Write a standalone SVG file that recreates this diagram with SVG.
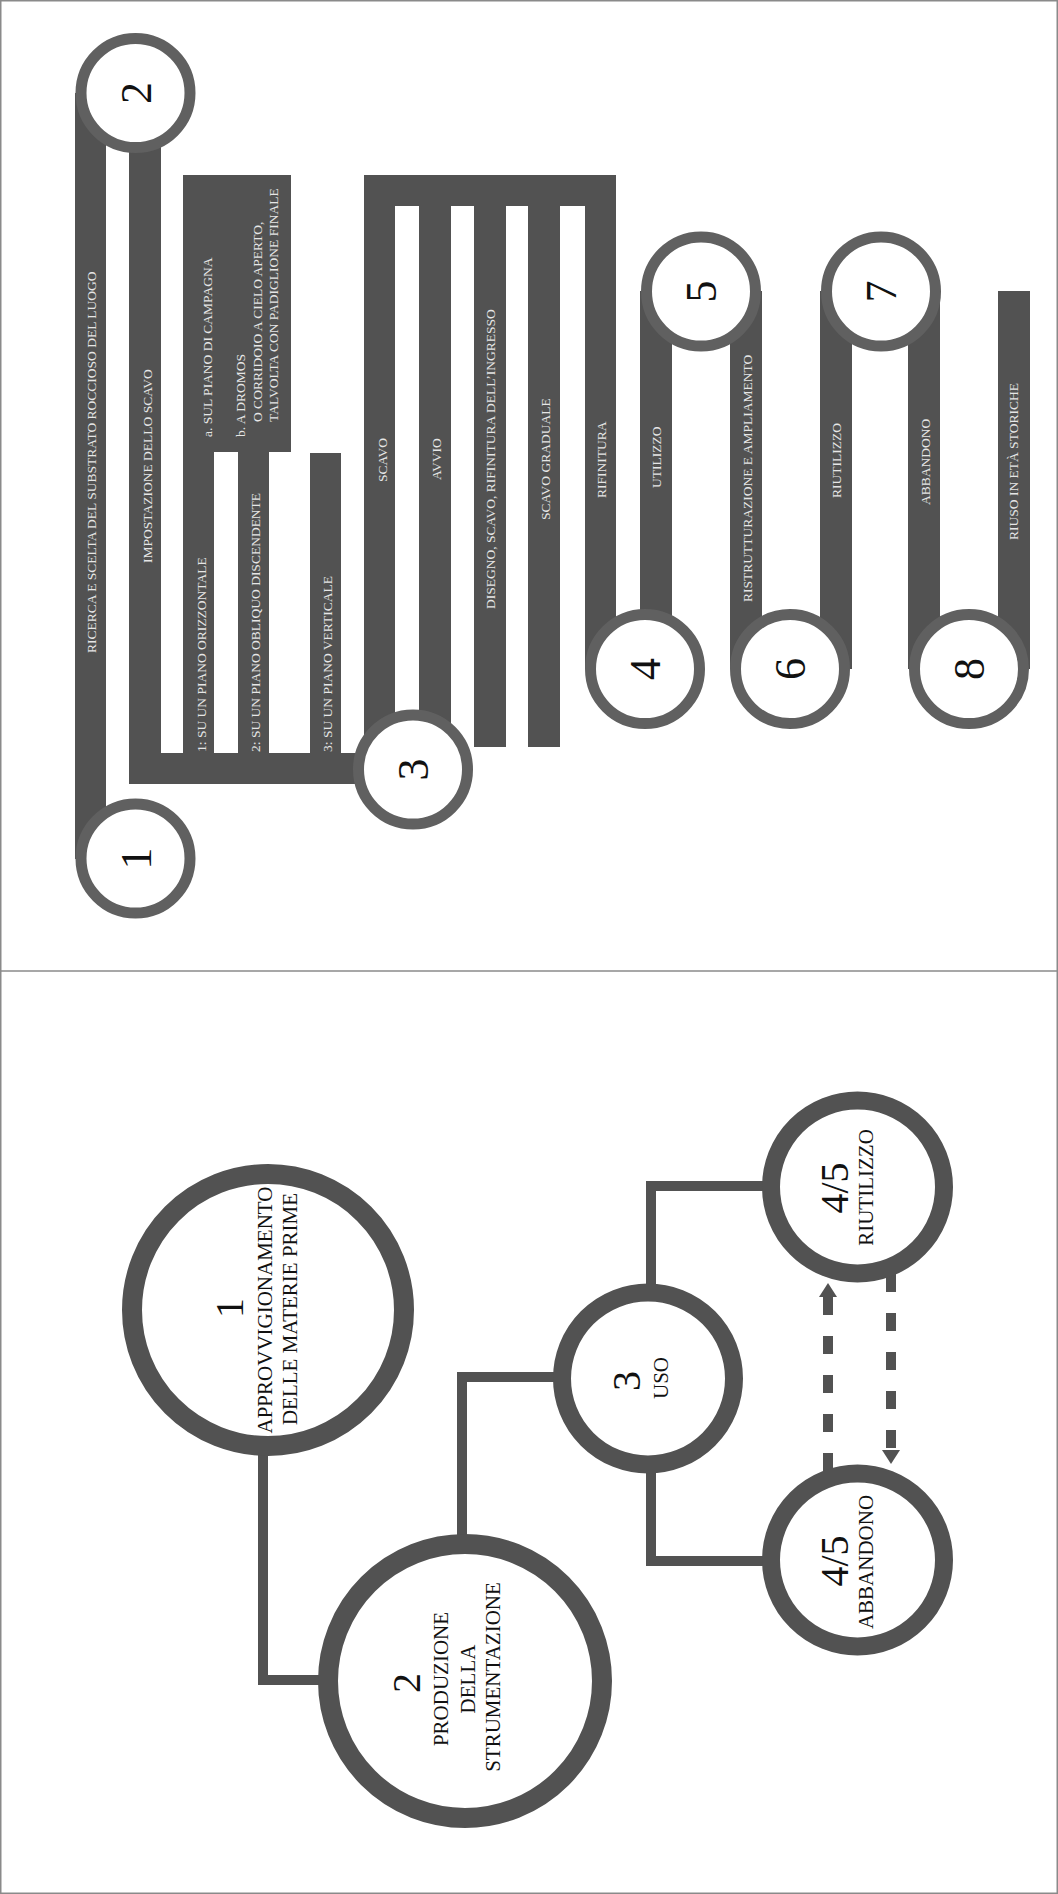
<svg xmlns="http://www.w3.org/2000/svg" width="1058" height="1894" viewBox="0 0 1058 1894">
<style>
.bar{fill:#525252}
.lbl{font-family:"Liberation Serif","Times New Roman",serif;font-size:13.5px;fill:#e6e6e6}
.ring{fill:#fff;stroke:#606060;stroke-width:11}
.num{font-family:"Liberation Serif","Times New Roman",serif;font-size:44px;fill:#111;text-anchor:middle}
.ring2{fill:#fff;stroke:#525252;stroke-width:20}
.ring3{fill:#fff;stroke:#525252;stroke-width:18}
.link{fill:none;stroke:#525252;stroke-width:10}
.dash{fill:none;stroke:#525252;stroke-width:10;stroke-dasharray:18 21}
.bnum{font-family:"Liberation Serif","Times New Roman",serif;font-size:40px;fill:#111;text-anchor:middle}
.btxt{font-family:"Liberation Serif","Times New Roman",serif;font-size:21px;fill:#111;text-anchor:middle}
.frame{fill:none;stroke:#8a8a8a;stroke-width:1.5}
</style>
<defs>
<marker id="ah" markerUnits="userSpaceOnUse" viewBox="0 0 14 18" refX="0" refY="9" markerWidth="14" markerHeight="18" orient="auto">
<path d="M0,0 L14,9 L0,18 Z" fill="#525252"/>
</marker>
</defs>
<rect class="frame" x="0.75" y="0.75" width="1056.5" height="1892.5" fill="#fff"/>
<line class="frame" x1="0" y1="971" x2="1058" y2="971"/>

<!-- TOP PANEL: connectors (bars) -->
<g id="connectors-top">
<rect class="bar" x="75" y="93" width="31" height="766"/>
<path class="bar" d="M129,93 H161 V753 H413 V784 H129 Z"/>
<path class="bar" d="M183,175 H291 V452 H269 V753 H238 V452 H214 V753 H183 Z"/>
<rect class="bar" x="310" y="453" width="31" height="300"/>
<path class="bar" d="M364,175 H616 V669 H585 V206 H560 V747 H528 V206 H506 V747 H474 V206 H451 V769 H419 V206 H395 V769 H364 Z"/>
<rect class="bar" x="640" y="291" width="32" height="378"/>
<rect class="bar" x="730" y="291" width="32" height="378"/>
<rect class="bar" x="820" y="291" width="32" height="378"/>
<rect class="bar" x="908" y="291" width="32" height="378"/>
<rect class="bar" x="998" y="291" width="32" height="378"/>
</g>

<g id="bar-labels">
<text class="lbl" transform="translate(95.5,653) rotate(-90)">RICERCA E SCELTA DEL SUBSTRATO ROCCIOSO DEL LUOGO</text>
<text class="lbl" transform="translate(151.5,563) rotate(-90)">IMPOSTAZIONE DELLO SCAVO</text>
<text class="lbl" transform="translate(205.5,752) rotate(-90)">1: SU UN PIANO ORIZZONTALE</text>
<text class="lbl" transform="translate(259.5,752) rotate(-90)">2: SU UN PIANO OBLIQUO DISCENDENTE</text>
<text class="lbl" transform="translate(331.5,752) rotate(-90)">3: SU UN PIANO VERTICALE</text>
<text class="lbl" transform="translate(386.5,482) rotate(-90)">SCAVO</text>
<text class="lbl" transform="translate(440.5,480) rotate(-90)">AVVIO</text>
<text class="lbl" transform="translate(494.5,609) rotate(-90)">DISEGNO, SCAVO, RIFINITURA DELL’INGRESSO</text>
<text class="lbl" transform="translate(549.5,520) rotate(-90)">SCAVO GRADUALE</text>
<text class="lbl" transform="translate(605.5,498) rotate(-90)">RIFINITURA</text>
<text class="lbl" transform="translate(660.5,488) rotate(-90)">UTILIZZO</text>
<text class="lbl" transform="translate(751.5,602) rotate(-90)">RISTRUTTURAZIONE E AMPLIAMENTO</text>
<text class="lbl" transform="translate(840.5,498) rotate(-90)">RIUTILIZZO</text>
<text class="lbl" transform="translate(929.5,505) rotate(-90)">ABBANDONO</text>
<text class="lbl" transform="translate(1017.5,540) rotate(-90)">RIUSO IN ETÀ STORICHE</text>
</g>

<g id="box-ab">
<text class="lbl" transform="translate(211.5,437) rotate(-90)">a. SUL PIANO DI CAMPAGNA</text>
<text class="lbl" transform="translate(244.5,437) rotate(-90)">b. A DROMOS</text>
<text class="lbl" transform="translate(261.5,422) rotate(-90)">O CORRIDOIO A CIELO APERTO,</text>
<text class="lbl" transform="translate(277.5,422) rotate(-90)">TALVOLTA CON PADIGLIONE FINALE</text>
</g>

<!-- TOP PANEL: nodes -->
<g id="step-1"><circle class="ring" cx="135.5" cy="858.5" r="54.5"/><text class="num" transform="translate(150.5,858.5) rotate(-90)">1</text></g>
<g id="step-2"><circle class="ring" cx="135.5" cy="93" r="54.5"/><text class="num" transform="translate(150.5,93) rotate(-90)">2</text></g>
<g id="step-3"><circle class="ring" cx="413" cy="769.5" r="54.5"/><text class="num" transform="translate(428,769.5) rotate(-90)">3</text></g>
<g id="step-4"><circle class="ring" cx="645" cy="669" r="54.5"/><text class="num" transform="translate(660,669) rotate(-90)">4</text></g>
<g id="step-5"><circle class="ring" cx="701" cy="291.5" r="54.5"/><text class="num" transform="translate(716,291.5) rotate(-90)">5</text></g>
<g id="step-6"><circle class="ring" cx="790" cy="669" r="54.5"/><text class="num" transform="translate(805,669) rotate(-90)">6</text></g>
<g id="step-7"><circle class="ring" cx="881" cy="291.5" r="54.5"/><text class="num" transform="translate(896,291.5) rotate(-90)">7</text></g>
<g id="step-8"><circle class="ring" cx="969" cy="669" r="54.5"/><text class="num" transform="translate(984,669) rotate(-90)">8</text></g>

<!-- BOTTOM PANEL: connectors -->
<g id="connectors-bottom">
<path class="link" d="M263,1455 V1680 H322"/>
<path class="link" d="M462,1535 V1377 H555"/>
<path class="link" d="M651,1286 V1186 H763"/>
<path class="link" d="M651,1471 V1561 H763"/>
<path class="dash" d="M828,1471 V1297" marker-end="url(#ah)"/>
<path class="dash" d="M891,1274 V1450" marker-end="url(#ah)"/>
</g>

<!-- BOTTOM PANEL: nodes -->
<g id="phase-1">
<circle class="ring2" cx="268" cy="1310" r="136"/>
<text class="bnum" font-size="38" transform="translate(243,1308) rotate(-90)">1</text>
<text class="btxt" transform="translate(272,1310) rotate(-90)">APPROVVIGIONAMENTO</text>
<text class="btxt" transform="translate(297,1309) rotate(-90)">DELLE MATERIE PRIME</text>
</g>
<g id="phase-2">
<circle class="ring2" cx="465" cy="1681" r="137"/>
<text class="bnum" font-size="38" transform="translate(420,1683) rotate(-90)">2</text>
<text class="btxt" transform="translate(448,1679) rotate(-90)">PRODUZIONE</text>
<text class="btxt" transform="translate(475,1679) rotate(-90)">DELLA</text>
<text class="btxt" transform="translate(500,1677) rotate(-90)">STRUMENTAZIONE</text>
</g>
<g id="phase-3">
<circle class="ring3" cx="648" cy="1378.5" r="86"/>
<text class="bnum" font-size="38" transform="translate(640,1381) rotate(-90)">3</text>
<text class="btxt" font-size="18" transform="translate(668,1378) rotate(-90)">USO</text>
</g>
<g id="phase-riutilizzo">
<circle class="ring3" cx="857.5" cy="1187" r="86.5"/>
<text class="bnum" transform="translate(848,1188) rotate(-90)">4/5</text>
<text class="btxt" transform="translate(873,1187.5) rotate(-90)">RIUTILIZZO</text>
</g>
<g id="phase-abbandono">
<circle class="ring3" cx="857.5" cy="1560" r="86.5"/>
<text class="bnum" transform="translate(848,1561) rotate(-90)">4/5</text>
<text class="btxt" transform="translate(873,1562) rotate(-90)">ABBANDONO</text>
</g>
</svg>
